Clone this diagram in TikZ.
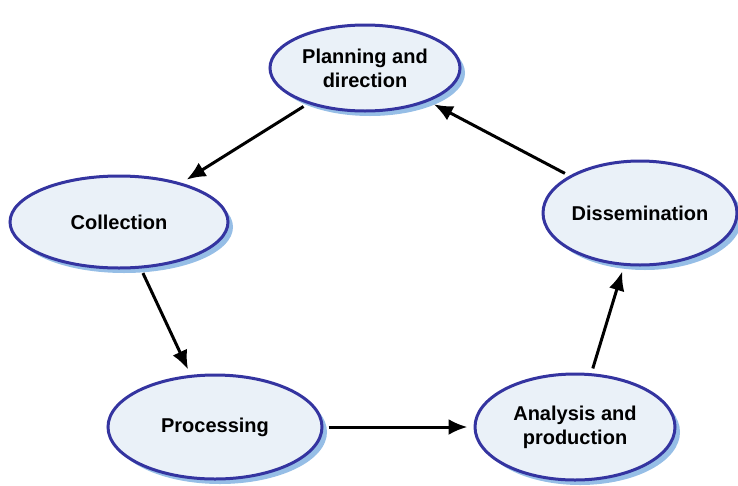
\documentclass[tikz,border=0pt]{standalone}
\usepackage{fontspec}
\setmainfont{Liberation Sans}
\usetikzlibrary{shapes.geometric,shadows,arrows.meta}

\definecolor{stageline}{RGB}{52,52,160}
\definecolor{stagefill}{RGB}{234,241,248}
\definecolor{stageshadow}{RGB}{150,190,230}

\tikzset{
	stage/.style={ellipse, draw=stageline, line width=3pt, fill=stagefill,
		drop shadow={shadow xshift=5pt, shadow yshift=-5pt, fill=stageshadow, opacity=1},
		align=center, font=\fontsize{20}{24}\selectfont\bfseries, inner sep=0pt},
	flow/.style={line width=3pt, -{Latex[length=19pt,width=16pt]}, shorten >=6pt, shorten <=5pt}
}

\begin{document}
\begin{tikzpicture}[x=1pt,y=-1pt]
		%%%%% START %%%%%
		
		\useasboundingbox (0, 0) rectangle (738, 485);
		
		\node[stage, minimum width=190pt, minimum height=86pt] (plan) at (365, 68) {Planning and\\direction};
		\node[stage, minimum width=218pt, minimum height=92pt] (coll) at (119, 222) {Collection};
		\node[stage, minimum width=214pt, minimum height=104pt] (proc) at (215, 427) {Processing};
		\node[stage, minimum width=200pt, minimum height=106pt] (anal) at (575, 427) {Analysis and\\production};
		\node[stage, minimum width=194pt, minimum height=104pt] (diss) at (640, 213) {Dissemination};
		
		\draw[flow] (plan) -- (coll);
		\draw[flow] (coll) -- (proc);
		\draw[flow] (proc) -- (anal);
		\draw[flow] (anal) -- (diss);
		\draw[flow] (diss) -- (plan);
		
		%%%%% END %%%%%
	\end{tikzpicture}
\end{document}
